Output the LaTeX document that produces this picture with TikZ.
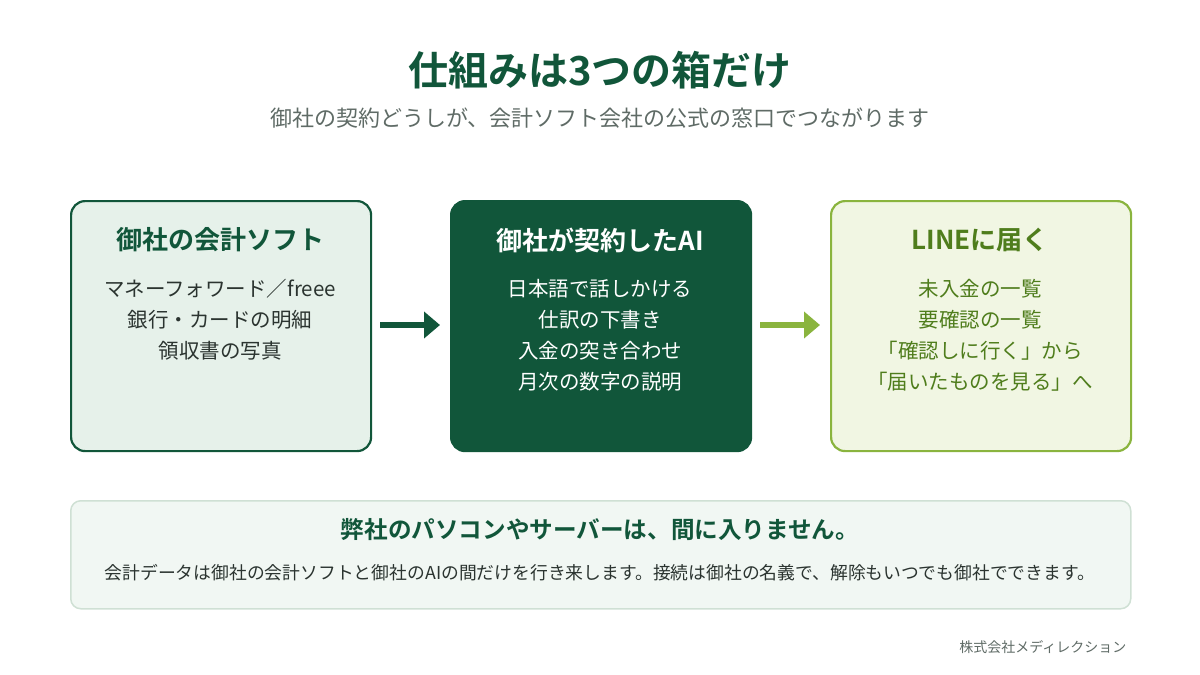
\documentclass[tikz,border=0pt]{standalone}
\usepackage{fontspec}
\setmainfont{Noto Sans CJK JP}[BoldFont={Noto Sans CJK JP Bold}]
\usetikzlibrary{arrows.meta}
\definecolor{dg}{HTML}{11563A}
\definecolor{lg}{HTML}{8AB43E}
\definecolor{lgt}{HTML}{4F7D1C}
\definecolor{f1}{HTML}{E6F1EA}
\definecolor{f3}{HTML}{F1F6E3}
\definecolor{fb}{HTML}{F1F7F3}
\definecolor{bb}{HTML}{CFE0D4}
\definecolor{gt}{HTML}{5F6B66}
\definecolor{tx}{HTML}{2B3430}
\begin{document}
\begin{tikzpicture}[x=1pt,y=-1pt,
  box/.style={rounded corners=14pt,line width=2.2pt,minimum width=300pt,minimum height=250pt,anchor=north west},
  ttl/.style={font=\bfseries\fontsize{26}{30}\selectfont},
  items/.style={font=\fontsize{20.5}{31}\selectfont,align=center,anchor=north},
  arr/.style={line width=6pt,-{Triangle[length=16pt,width=26pt]}}]
\useasboundingbox (0,0) rectangle (1200,675);
\node[font=\bfseries\fontsize{40}{46}\selectfont,text=dg] (title) at (600,70) {仕組みは3つの箱だけ};
\node[font=\fontsize{22}{26}\selectfont,text=gt] (sub) at (600,118) {御社の契約どうしが、会計ソフト会社の公式の窓口でつながります};
\node[box,draw=dg,fill=f1] (b1) at (70,200) {};
\node[box,draw=dg,fill=dg] (b2) at (450,200) {};
\node[box,draw=lg,fill=f3] (b3) at (830,200) {};
\node[ttl,text=dg] (t1) at (220,240) {御社の会計ソフト};
\node[ttl,text=white] (t2) at (600,240) {御社が契約したAI};
\node[ttl,text=lgt] (t3) at (980,240) {LINEに届く};
\node[items,text=tx] (i1) at (220,276) {マネーフォワード／freee\\銀行・カードの明細\\領収書の写真};
\node[items,text=white] (i2) at (600,276) {日本語で話しかける\\仕訳の下書き\\入金の突き合わせ\\月次の数字の説明};
\node[items,text=lgt] (i3) at (980,276) {未入金の一覧\\要確認の一覧\\「確認しに行く」から\\「届いたものを見る」へ};
\coordinate (a1s) at (380,325); \coordinate (a1e) at (440,325);
\coordinate (a2s) at (760,325); \coordinate (a2e) at (820,325);
\draw[arr,dg] (a1s) -- (a1e);
\draw[arr,lg] (a2s) -- (a2e);
\node[draw=bb,fill=fb,line width=1.5pt,rounded corners=10pt,minimum width=1060pt,minimum height=108pt,anchor=north west] (bot) at (70,500) {};
\node[font=\bfseries\fontsize{23.6}{28}\selectfont,text=dg] (bh) at (600,530) {弊社のパソコンやサーバーは、間に入りません。};
\node[font=\fontsize{17.8}{21}\selectfont,text=tx] (bt) at (600,573) {会計データは御社の会計ソフトと御社のAIの間だけを行き来します。接続は御社の名義で、解除もいつでも御社でできます。};
\node[font=\fontsize{14}{16}\selectfont,text=gt,anchor=east] (ft) at (1130,647) {株式会社メディレクション};
\end{tikzpicture}
\end{document}
